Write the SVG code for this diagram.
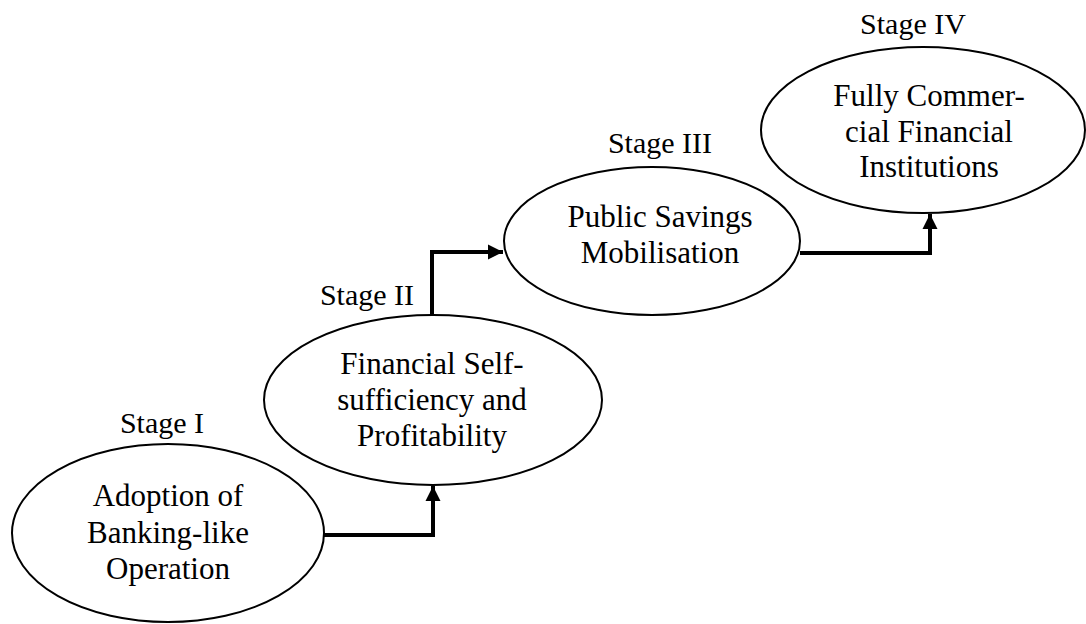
<svg xmlns="http://www.w3.org/2000/svg" width="1086" height="624" viewBox="0 0 1086 624">
  <style>
    .node ellipse { fill: #ffffff; stroke: #000000; stroke-width: 2; }
    text { font-family: "Liberation Serif", "Times New Roman", serif; font-size: 31px; fill: #000000; text-anchor: middle; }
    text.stage { font-size: 30px; }
    .conn { fill: none; stroke: #000000; stroke-width: 4; stroke-linejoin: miter; }
  </style>
  <defs>
    <marker id="arrow" viewBox="0 0 10 10" refX="10" refY="5" markerWidth="3.8" markerHeight="3.8" markerUnits="strokeWidth" orient="auto">
      <path d="M0,0 L10,5 L0,10 z" fill="#000000"/>
    </marker>
  </defs>

  <!-- Stage I -->
  <g id="stage1" class="node">
    <text class="stage" x="162" y="433">Stage I</text>
    <ellipse cx="168" cy="533" rx="156" ry="89"/>
    <text x="168" y="506">Adoption of</text>
    <text x="168" y="543">Banking-like</text>
    <text x="168" y="579">Operation</text>
  </g>

  <!-- Stage II -->
  <g id="stage2" class="node">
    <text class="stage" x="367" y="305">Stage II</text>
    <ellipse cx="433" cy="400" rx="169" ry="85"/>
    <text x="432" y="374">Financial Self-</text>
    <text x="432" y="410">sufficiency and</text>
    <text x="432" y="446">Profitability</text>
  </g>

  <!-- Stage III -->
  <g id="stage3" class="node">
    <text class="stage" x="660" y="153">Stage III</text>
    <ellipse cx="652" cy="241" rx="148" ry="74"/>
    <text x="660" y="227">Public Savings</text>
    <text x="660" y="263">Mobilisation</text>
  </g>

  <!-- Stage IV -->
  <g id="stage4" class="node">
    <text class="stage" x="913" y="34">Stage IV</text>
    <ellipse cx="923" cy="130" rx="162" ry="83"/>
    <text x="929" y="106">Fully Commer-</text>
    <text x="929" y="142">cial Financial</text>
    <text x="929" y="177">Institutions</text>
  </g>

  <!-- elbow connectors between stages -->
  <g id="connectors">
    <path class="conn" d="M324,535 H433 V486" marker-end="url(#arrow)"/>
    <path class="conn" d="M432,315 V252 H503" marker-end="url(#arrow)"/>
    <path class="conn" d="M800,253 H930 V214" marker-end="url(#arrow)"/>
  </g>
</svg>
